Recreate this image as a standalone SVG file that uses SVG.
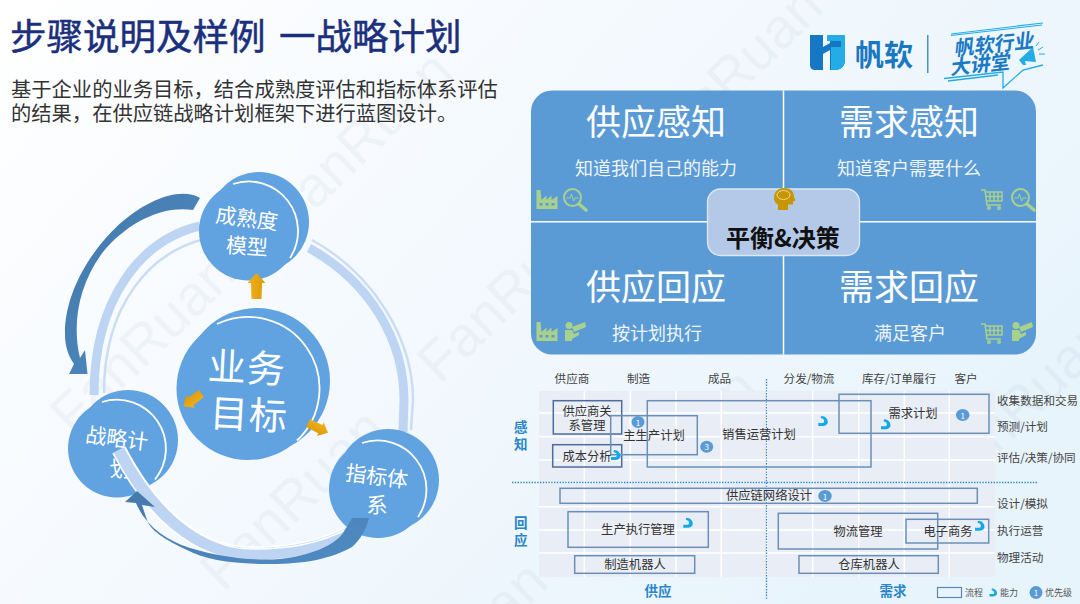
<svg xmlns="http://www.w3.org/2000/svg" xmlns:xlink="http://www.w3.org/1999/xlink" width="1080" height="604" viewBox="0 0 1080 604">
<style>
text{font-family:"Noto Sans CJK SC","Noto Sans",sans-serif}
.c{text-anchor:middle;dominant-baseline:central}
.w{fill:#fff}
.wm{font-family:"Liberation Sans",sans-serif;font-size:56px;fill:#7f8f9f;opacity:.065}
.tt{font-size:36.500px;fill:#1b2f7c;stroke:#1b2f7c;stroke-width:.5}
.h{font-size:35px;fill:#fff}
.s{font-size:18px;fill:#eef4fb}
.l{font-size:11.6px;fill:#444}
.b{font-size:12.3px;fill:#333}
.box{fill:none;stroke:#6a90b8;stroke-width:1.5}
.dk{stroke:#4d6d9c}
.g{stroke:#fff;stroke-width:1.5}
.dot{stroke:#2e86c8;stroke-width:1.3;stroke-dasharray:1.4 1.4;fill:none}
.side{font-size:13.5px;font-weight:700;fill:#2a86c8}
.ic{fill:#a9d18e}
.ring{fill:none;stroke:#bdd5f2;stroke-width:9}
.ring2{fill:none;stroke:#c9ddf5;stroke-width:2.5}
.disc{fill:#61a2e0}
.arc{fill:none;stroke:#fff;stroke-width:1.8}
.cv{fill:url(#cv)}
.badge{fill:#5b9bd5}
.n{font-size:8px;fill:#fff}
</style>
<defs>
<linearGradient id="bg" x1="0" y1="0" x2="1" y2="0.5"><stop offset="0" stop-color="#ffffff"/><stop offset=".4" stop-color="#f6fafe"/><stop offset="1" stop-color="#e8f4fc"/></linearGradient>
<linearGradient id="cv" x1="0" y1="0" x2="1" y2="1"><stop offset="0" stop-color="#4479ab"/><stop offset="1" stop-color="#4f8cc4"/></linearGradient>
<linearGradient id="ya" x1="0" y1="0" x2="1" y2="0"><stop offset="0" stop-color="#f2b21c"/><stop offset="1" stop-color="#d99a08"/></linearGradient>
<path id="hook" d="M-2-5C2-5 4.500-2 4.500 1C4.500 3.500 2 5-1 5L-5 5L-5 2L-1 2C1 2 1.500 0 0-2L-2.500-3Z" fill="#12a9e8"/>
<polygon id="ya1" points="0,-13 9,-3 5.500,-3 5,13 -5,13 -5.500,-3 -9,-3" fill="url(#ya)"/>
<g id="factory" class="ic"><path d="M0 0H4L5 10L10 5.500V10L15 5.500V10L21 6V19H0Z"/><rect x="3" y="13" width="3" height="2.500" fill="#5b9bd5"/><rect x="9" y="13" width="3" height="2.500" fill="#5b9bd5"/><rect x="15" y="13" width="3" height="2.500" fill="#5b9bd5"/></g>
<g id="lens" fill="none" stroke="#a9d18e"><circle cx="9.500" cy="9.500" r="8.500" stroke-width="2"/><path d="M16 16L23 22" stroke-width="3.500" stroke-linecap="round"/><path d="M3.500 10H7L8.500 6L10.500 13L12 10H15.500" stroke-width="1"/></g>
<g id="cart" fill="none" stroke="#a9d18e" stroke-width="1.500"><path d="M0 1H4L6 16H20"/><path d="M4 3H21V12H5M9 3V12M13 3V12M17 3V12M4.500 7.500H21"/><circle cx="8" cy="19" r="1.300"/><circle cx="18" cy="19" r="1.300"/></g>
<g id="scout" class="ic"><circle cx="4" cy="3.500" r="3.500"/><path d="M0 8H7L9 12L14 10V13L7 17V19H0Z"/><path d="M7 5L20 0L21 5L9 10Z"/></g>
</defs>
<rect width="1080" height="604" fill="url(#bg)"/>
<g id="watermarks">
<text class="wm" transform="translate(73 437) rotate(-44)">FanRuan</text>
<text class="wm" transform="translate(440 385) rotate(-44)">FanRuan</text>
<text class="wm" transform="translate(812 312) rotate(-44)">FanRuan</text>
<text class="wm" transform="translate(223 593) rotate(-44)">FanRuan</text>
<text class="wm" transform="translate(595 552) rotate(-44)">FanRuan</text>
<text class="wm" transform="translate(950 500) rotate(-44)">FanRuan</text>
<text class="wm" transform="translate(290 235) rotate(-44)">FanRuan</text>
<text class="wm" transform="translate(660 170) rotate(-44)">FanRuan</text>
<text class="wm" transform="translate(385 745) rotate(-44)">FanRuan</text>
</g>
<g id="title">
<text class="tt" x="10" y="50" xml:space="preserve">步骤说明及样例<tspan x="279">一战略计划</tspan></text>
<text x="11" y="97" font-size="20.300" fill="#333">基于企业的业务目标&#65292;结合成熟度评估和指标体系评估</text>
<text x="11" y="121" font-size="20.300" fill="#333">的结果&#65292;在供应链战略计划框架下进行蓝图设计。</text>
</g>
<g id="logo">
<path d="M810 35H823V47L830 43V35H845V60C845 66 841 70 835 70H830V50L823 54V70H815C812 70 810 68 810 65Z" fill="#1677c5"/>
<path d="M827 35H845V60C845 66 841 70 835 70H831V47H841V41H827Z" fill="#23ace6"/>
<text class="c" x="884" y="53" font-size="29" font-weight="700" fill="#1a78c2">帆软</text>
<rect x="927" y="35" width="1.500" height="38" fill="#4a90c8"/>
<path d="M951 34L1043 23M951 35.500L1042 25" stroke="#23ace6" stroke-width="1.200" fill="none"/>
<path d="M944 78.500L1003 72L1003 88L1023 70L1043 65" stroke="#23ace6" stroke-width="1.300" fill="none"/>
<path d="M948 81L998 75" stroke="#23ace6" stroke-width="1.300" fill="none"/>
<text class="c" transform="translate(995 43) rotate(-6) skewX(-12)" font-size="20" font-weight="700" fill="#1a7ac4">帆软行业</text>
<text class="c" transform="translate(981 63) rotate(-6) skewX(-12)" font-size="20" font-weight="700" fill="#1a7ac4">大讲堂</text>
<path d="M1019 60L1033 47L1036 62L1025 61L1026 65L1023 65Z" fill="#23ace6"/>
<path d="M1038 50L1043 47M1039 54H1045M1036 46L1039 42" stroke="#23ace6" fill="none"/>
</g>

<g id="connectors">
<path class="ring" d="M200 226C140 240 94 300 94 395"/>
<path class="ring2" d="M205 239C150 252 104 305 104 393"/>
<path class="ring" d="M309 248C370 282 404 340 404 400L403 432"/>
<path class="ring2" d="M312 240C375 275 413 340 413 400L411 430"/>
</g>
<g id="node-model">
<circle class="disc" cx="259" cy="222" r="50"/><circle class="disc" cx="248.500" cy="231" r="49.500"/>
<path class="arc" d="M233 184A49.500 49.500 0 0 1 290 258"/>
<text class="c w" transform="translate(247 217) rotate(7)" font-size="21">成熟度</text>
<text class="c w" transform="translate(247 245) rotate(4)" font-size="21">模型</text>
</g>
<g id="node-goal">
<circle class="disc" cx="257" cy="381" r="73"/><circle class="disc" cx="248" cy="388.500" r="71.500"/>
<path class="arc" d="M217 324A71.500 71.500 0 0 1 297 440.500"/>
<text class="c w" transform="translate(247 365) rotate(3)" font-size="38" letter-spacing="1">业务</text>
<text class="c w" transform="translate(249 412) rotate(3)" font-size="38" letter-spacing="1">目标</text>
</g>
<g id="node-metric">
<circle class="disc" cx="388" cy="480" r="51"/><circle class="disc" cx="378" cy="489" r="49"/>
<path class="arc" d="M362 443A49 49 0 0 1 418 517"/>
<text class="c w" transform="translate(377 475) rotate(7)" font-size="21">指标体</text>
<text class="c w" x="377" y="503" font-size="21">系</text>
</g>
<g id="node-strategy">
<circle class="disc" cx="128" cy="440" r="50"/><circle class="disc" cx="117" cy="448.500" r="49"/>
<path class="arc" d="M102 402A49 49 0 0 1 155 479.500"/>
<text class="c w" transform="translate(117 437) rotate(7)" font-size="21">战略计</text>
<text class="c w" x="120" y="467" font-size="21">划</text>
</g>
<g id="connectors-front">
<path d="M348 534C320 548 290 554 253 554C195 554 150 510 119 450" fill="none" stroke="#fff" stroke-width="15"/>
<path d="M348 534C320 548 290 554 253 554C195 554 150 510 119 450" fill="none" stroke="#bdd5f2" stroke-width="12"/>
<path d="M350 528C318 544 290 549 253 549C200 549 155 506 125 448" fill="none" stroke="#fff" stroke-width="1.500"/>
<path class="cv" d="M200 198C188 191 170 193 150 203C110 222 64 280 65 335C65 345 68 356 74 364L69 374L87.500 374L85 350L80 358C72 325 78 285 103 252C125 225 160 205 193 210Z"/>
<path class="cv" d="M369 518C366 530 360 540 352 547C325 562 295 564 267 564C235 564 205 560 187 550C165 540 150 530 147 520L142 505L155 507L137 491L125 502L136 503C145 525 165 540 190 548C220 557 250 561 280 559C310 556 335 545 343 533C346 528 350 522 352 518Z"/>
<use xlink:href="#ya1" href="#ya1" transform="translate(256.500 286)"/>
<use xlink:href="#ya1" href="#ya1" transform="translate(192.500 400) rotate(-126) scale(.85)"/>
<use xlink:href="#ya1" href="#ya1" transform="translate(318 428) rotate(116) scale(.85)"/>
</g>

<g id="panel">
<rect x="531" y="90.500" width="505" height="264" rx="21" fill="#5b9bd5"/>
<path class="g" d="M783.500 90.500V354.500M531 221.700H1036" fill="none"/>
<text class="c h" x="656" y="119">供应感知</text>
<text class="c h" x="909" y="119">需求感知</text>
<text class="c h" x="656" y="284">供应回应</text>
<text class="c h" x="909" y="284">需求回应</text>
<text class="c s" x="656" y="167">知道我们自己的能力</text>
<text class="c s" x="909" y="167">知道客户需要什么</text>
<text class="c s" x="657" y="332">按计划执行</text>
<text class="c s" x="910" y="332">满足客户</text>
<use xlink:href="#factory" href="#factory" x="536.500" y="190"/>
<use xlink:href="#lens" href="#lens" x="563" y="188"/>
<use xlink:href="#cart" href="#cart" x="981" y="189"/>
<use xlink:href="#lens" href="#lens" x="1011" y="188"/>
<use xlink:href="#factory" href="#factory" x="536.500" y="322"/>
<use xlink:href="#scout" href="#scout" x="565" y="322"/>
<use xlink:href="#cart" href="#cart" x="981" y="323"/>
<use xlink:href="#scout" href="#scout" x="1012" y="322"/>
</g>
<g id="node-balance">
<rect x="707.500" y="189" width="152" height="66.500" rx="13" fill="#b4c9e8" stroke="#dce7f5" stroke-width="1.300"/>
<path d="M774 198C774 191 779 188 784 188C790 188 794 191 794 197L795.500 200.500L793 201.500V204.500H788V210H778V205C775.500 203 774 201 774 198Z" fill="#c89600"/>
<ellipse cx="783.500" cy="195" rx="6.500" ry="4.500" fill="none" stroke="#e8d9a0" stroke-width="1"/>
<text class="c" x="783" y="236" font-size="24" font-weight="700" fill="#111">平衡&amp;决策</text>
</g>

<g id="matrix">
<rect x="539" y="391" width="456" height="91" fill="#e9edf6"/>
<rect x="539" y="484" width="456" height="93" fill="#e9edf6"/>
<path class="g" d="M584.300 391V577M630.300 391V577M676 391V577M721.300 391V577M767 391V577M812.700 391V577M858.700 391V577M904.300 391V577M949.300 391V577M539 413H995M539 436.700H995M539 460H995M539 506.700H995M539 530H995M539 553H995" fill="none"/>
<text class="c l" x="572" y="378">供应商</text>
<text class="c l" x="638.500" y="378">制造</text>
<text class="c l" x="719.500" y="378">成品</text>
<text class="c l" x="809" y="378">分发/物流</text>
<text class="c l" x="899" y="378">库存/订单履行</text>
<text class="c l" x="966" y="378">客户</text>
<text class="l" x="997" y="405">收集数据和交易</text>
<text class="l" x="997" y="431">预测/计划</text>
<text class="l" x="997" y="462">评估/决策/协同</text>
<text class="l" x="997" y="508">设计/模拟</text>
<text class="l" x="997" y="535">执行运营</text>
<text class="l" x="997" y="562">物理活动</text>
<text class="c side" x="520.700" y="426">感</text>
<text class="c side" x="520.700" y="443">知</text>
<text class="c side" x="520.700" y="522">回</text>
<text class="c side" x="520.700" y="539">应</text>
<text class="c side" x="658" y="590">供应</text>
<text class="c side" x="893" y="590">需求</text>
<path class="dot" d="M512 482.500H1037M766.500 379V599"/>
</g>
<g id="box-srm"><rect class="box dk" x="553.300" y="400.700" width="68.400" height="33.300"/><text class="c b" x="587" y="411">供应商关</text><text class="c b" x="587" y="425">系管理</text></g>
<g id="box-cost"><rect class="box dk" x="552.700" y="444.700" width="69" height="22.300"/><text class="c b" x="587" y="455.500">成本分析</text></g>
<g id="box-mps"><rect class="box" x="610.700" y="415.700" width="86.600" height="39"/><text class="c b" x="654" y="434.500">主生产计划</text></g>
<g id="box-sop"><rect class="box" x="647.300" y="400.700" width="223.700" height="66.300"/><text class="c b" x="759" y="433.500">销售运营计划</text></g>
<g id="box-demand"><rect class="box" x="839" y="394.300" width="150" height="39"/><text class="c b" x="913" y="413">需求计划</text></g>
<g id="box-network"><rect class="box" x="560" y="488.300" width="417.300" height="15"/><text class="c b" x="769" y="495">供应链网络设计</text></g>
<g id="box-mes"><rect class="box" x="568" y="511.700" width="140.300" height="35.600"/><text class="c b" x="638" y="528.500">生产执行管理</text></g>
<g id="box-logistics"><rect class="box" x="778.300" y="513.300" width="159.400" height="35.700"/><text class="c b" x="858" y="530.500">物流管理</text></g>
<g id="box-ecom"><rect class="box" x="906" y="519.300" width="82.700" height="23.700"/><text class="c b" x="948" y="530.500">电子商务</text></g>
<g id="box-mrobot"><rect class="box" x="574.700" y="555.700" width="120" height="17.600"/><text class="c b" x="635" y="563.500">制造机器人</text></g>
<g id="box-wrobot"><rect class="box" x="799" y="555.700" width="139.300" height="17.600"/><text class="c b" x="869" y="563.500">仓库机器人</text></g>
<g id="badges">
<ellipse class="badge" cx="638" cy="422" rx="6.500" ry="6"/><text class="c n" x="638" y="422">1</text>
<ellipse class="badge" cx="706.700" cy="446.700" rx="6.500" ry="6"/><text class="c n" x="706.700" y="446.700">3</text>
<ellipse class="badge" cx="962.700" cy="415" rx="6.800" ry="6"/><text class="c n" x="962.700" y="415">1</text>
<ellipse class="badge" cx="825" cy="496" rx="6.800" ry="6"/><text class="c n" x="825" y="496">1</text>
<use xlink:href="#hook" href="#hook" x="616" y="455"/>
<use xlink:href="#hook" href="#hook" x="688.300" y="522.700"/>
<use xlink:href="#hook" href="#hook" x="823.300" y="421"/>
<use xlink:href="#hook" href="#hook" x="886" y="424.300"/>
<use xlink:href="#hook" href="#hook" x="980" y="525.700"/>
</g>
<g id="legend">
<rect x="937.500" y="587.500" width="24" height="10" fill="none" stroke="#5f86b0" stroke-width="1.200"/>
<text x="965" y="595.500" font-size="9" fill="#555">流程</text>
<use xlink:href="#hook" href="#hook" transform="translate(993.500 592.500) scale(.8)"/>
<text x="1000" y="595.500" font-size="9" fill="#555">能力</text>
<circle class="badge" cx="1036" cy="592.500" r="6.500"/><text class="c n" x="1036" y="592.500">1</text>
<text x="1045" y="595.500" font-size="9" fill="#555">优先级</text>
</g>
</svg>
